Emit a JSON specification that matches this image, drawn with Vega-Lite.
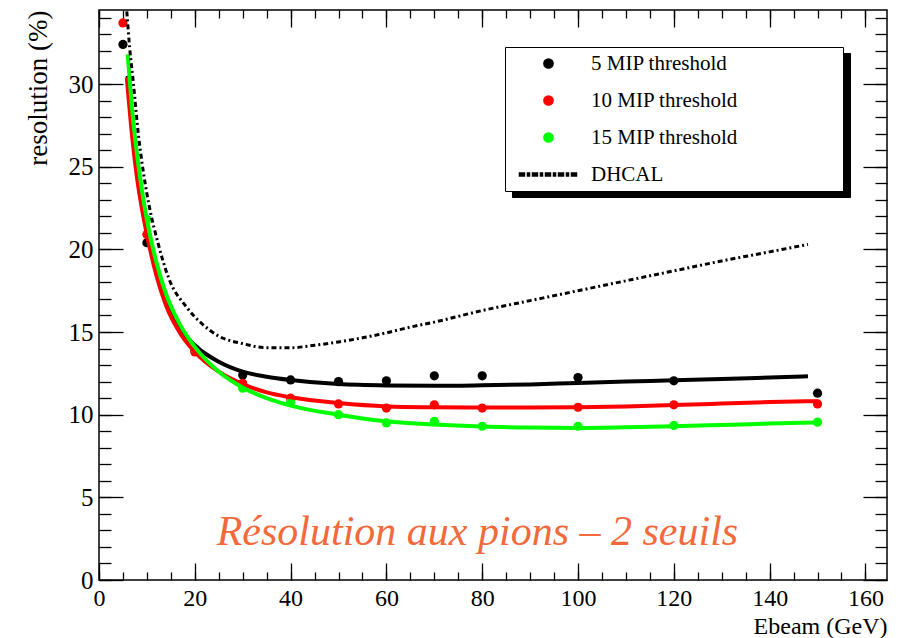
{
  "$schema": "https://vega.github.io/schema/vega-lite/v6.json",
  "width": 788,
  "height": 570,
  "autosize": "none",
  "padding": {"left": 99, "top": 10, "right": 15, "bottom": 58},
  "background": "white",
  "config": {
    "view": {"stroke": "black", "strokeWidth": 1.5},
    "font": "Liberation Serif",
    "axis": {
      "domain": false, "grid": false, "tickColor": "black", "tickWidth": 1.3,
      "labelColor": "black", "titleColor": "black",
      "labelFont": "Liberation Serif", "titleFont": "Liberation Serif",
      "labelFontSize": 24, "titleFontSize": 24, "titleFontWeight": "normal",
      "labelFlush": false, "labelOverlap": false
    }
  },
  "datasets": {
    "pts": [
      {"series": "5 MIP threshold", "E": 5, "res": 32.4},
      {"series": "5 MIP threshold", "E": 10, "res": 20.4},
      {"series": "5 MIP threshold", "E": 20, "res": 13.9},
      {"series": "5 MIP threshold", "E": 30, "res": 12.4},
      {"series": "5 MIP threshold", "E": 40, "res": 12.1},
      {"series": "5 MIP threshold", "E": 50, "res": 12.0},
      {"series": "5 MIP threshold", "E": 60, "res": 12.05},
      {"series": "5 MIP threshold", "E": 70, "res": 12.35},
      {"series": "5 MIP threshold", "E": 80, "res": 12.35},
      {"series": "5 MIP threshold", "E": 100, "res": 12.25},
      {"series": "5 MIP threshold", "E": 120, "res": 12.05},
      {"series": "5 MIP threshold", "E": 150, "res": 11.3},
      {"series": "10 MIP threshold", "E": 5, "res": 33.7},
      {"series": "10 MIP threshold", "E": 10, "res": 20.9},
      {"series": "10 MIP threshold", "E": 20, "res": 13.8},
      {"series": "10 MIP threshold", "E": 30, "res": 11.9},
      {"series": "10 MIP threshold", "E": 40, "res": 11.0},
      {"series": "10 MIP threshold", "E": 50, "res": 10.65},
      {"series": "10 MIP threshold", "E": 60, "res": 10.4},
      {"series": "10 MIP threshold", "E": 70, "res": 10.6},
      {"series": "10 MIP threshold", "E": 80, "res": 10.4},
      {"series": "10 MIP threshold", "E": 100, "res": 10.45},
      {"series": "10 MIP threshold", "E": 120, "res": 10.6},
      {"series": "10 MIP threshold", "E": 150, "res": 10.65},
      {"series": "15 MIP threshold", "E": 10, "res": 21.8},
      {"series": "15 MIP threshold", "E": 20, "res": 14.0},
      {"series": "15 MIP threshold", "E": 30, "res": 11.6},
      {"series": "15 MIP threshold", "E": 40, "res": 10.75},
      {"series": "15 MIP threshold", "E": 50, "res": 10.0},
      {"series": "15 MIP threshold", "E": 60, "res": 9.5},
      {"series": "15 MIP threshold", "E": 70, "res": 9.6},
      {"series": "15 MIP threshold", "E": 80, "res": 9.3},
      {"series": "15 MIP threshold", "E": 100, "res": 9.3},
      {"series": "15 MIP threshold", "E": 120, "res": 9.35},
      {"series": "15 MIP threshold", "E": 150, "res": 9.55}
    ],
    "fits": [
      {"series": "5 MIP threshold", "E": 6, "res": 30.5},
      {"series": "5 MIP threshold", "E": 7, "res": 27.3},
      {"series": "5 MIP threshold", "E": 8, "res": 25.0},
      {"series": "5 MIP threshold", "E": 9, "res": 23.0},
      {"series": "5 MIP threshold", "E": 10, "res": 21.3},
      {"series": "5 MIP threshold", "E": 12, "res": 18.7},
      {"series": "5 MIP threshold", "E": 14, "res": 16.9},
      {"series": "5 MIP threshold", "E": 17, "res": 15.2},
      {"series": "5 MIP threshold", "E": 20, "res": 14.2},
      {"series": "5 MIP threshold", "E": 25, "res": 13.2},
      {"series": "5 MIP threshold", "E": 30, "res": 12.6},
      {"series": "5 MIP threshold", "E": 35, "res": 12.3},
      {"series": "5 MIP threshold", "E": 40, "res": 12.1},
      {"series": "5 MIP threshold", "E": 50, "res": 11.85},
      {"series": "5 MIP threshold", "E": 60, "res": 11.77},
      {"series": "5 MIP threshold", "E": 70, "res": 11.75},
      {"series": "5 MIP threshold", "E": 80, "res": 11.78},
      {"series": "5 MIP threshold", "E": 90, "res": 11.83},
      {"series": "5 MIP threshold", "E": 100, "res": 11.92},
      {"series": "5 MIP threshold", "E": 110, "res": 12.0},
      {"series": "5 MIP threshold", "E": 120, "res": 12.08},
      {"series": "5 MIP threshold", "E": 130, "res": 12.16},
      {"series": "5 MIP threshold", "E": 140, "res": 12.25},
      {"series": "5 MIP threshold", "E": 148, "res": 12.32},
      {"series": "10 MIP threshold", "E": 5.8, "res": 30.4},
      {"series": "10 MIP threshold", "E": 7, "res": 26.6},
      {"series": "10 MIP threshold", "E": 8, "res": 24.2},
      {"series": "10 MIP threshold", "E": 9, "res": 22.4},
      {"series": "10 MIP threshold", "E": 10, "res": 20.9},
      {"series": "10 MIP threshold", "E": 12, "res": 18.4},
      {"series": "10 MIP threshold", "E": 14, "res": 16.6},
      {"series": "10 MIP threshold", "E": 17, "res": 14.9},
      {"series": "10 MIP threshold", "E": 20, "res": 13.8},
      {"series": "10 MIP threshold", "E": 25, "res": 12.6},
      {"series": "10 MIP threshold", "E": 30, "res": 11.85},
      {"series": "10 MIP threshold", "E": 35, "res": 11.35},
      {"series": "10 MIP threshold", "E": 40, "res": 11.05},
      {"series": "10 MIP threshold", "E": 50, "res": 10.7},
      {"series": "10 MIP threshold", "E": 60, "res": 10.5},
      {"series": "10 MIP threshold", "E": 70, "res": 10.45},
      {"series": "10 MIP threshold", "E": 80, "res": 10.43},
      {"series": "10 MIP threshold", "E": 90, "res": 10.43},
      {"series": "10 MIP threshold", "E": 100, "res": 10.45},
      {"series": "10 MIP threshold", "E": 110, "res": 10.5},
      {"series": "10 MIP threshold", "E": 120, "res": 10.58},
      {"series": "10 MIP threshold", "E": 130, "res": 10.67},
      {"series": "10 MIP threshold", "E": 140, "res": 10.76},
      {"series": "10 MIP threshold", "E": 150, "res": 10.82},
      {"series": "15 MIP threshold", "E": 6, "res": 31.8},
      {"series": "15 MIP threshold", "E": 7, "res": 28.2},
      {"series": "15 MIP threshold", "E": 8, "res": 25.6},
      {"series": "15 MIP threshold", "E": 9, "res": 23.5},
      {"series": "15 MIP threshold", "E": 10, "res": 21.8},
      {"series": "15 MIP threshold", "E": 12, "res": 19.2},
      {"series": "15 MIP threshold", "E": 14, "res": 17.3},
      {"series": "15 MIP threshold", "E": 17, "res": 15.4},
      {"series": "15 MIP threshold", "E": 20, "res": 14.1},
      {"series": "15 MIP threshold", "E": 25, "res": 12.6},
      {"series": "15 MIP threshold", "E": 30, "res": 11.65},
      {"series": "15 MIP threshold", "E": 35, "res": 11.0},
      {"series": "15 MIP threshold", "E": 40, "res": 10.55},
      {"series": "15 MIP threshold", "E": 50, "res": 10.0},
      {"series": "15 MIP threshold", "E": 60, "res": 9.6},
      {"series": "15 MIP threshold", "E": 70, "res": 9.4},
      {"series": "15 MIP threshold", "E": 80, "res": 9.28},
      {"series": "15 MIP threshold", "E": 90, "res": 9.22},
      {"series": "15 MIP threshold", "E": 100, "res": 9.2},
      {"series": "15 MIP threshold", "E": 110, "res": 9.24},
      {"series": "15 MIP threshold", "E": 120, "res": 9.3},
      {"series": "15 MIP threshold", "E": 130, "res": 9.38},
      {"series": "15 MIP threshold", "E": 140, "res": 9.46},
      {"series": "15 MIP threshold", "E": 150, "res": 9.53}
    ],
    "dhcal": [
      {"E": 5.8, "res": 34.4}, {"E": 6.4, "res": 32.2}, {"E": 7.2, "res": 30.0},
      {"E": 8.2, "res": 27.0}, {"E": 9.3, "res": 24.6}, {"E": 10.5, "res": 22.6},
      {"E": 12.3, "res": 20.4}, {"E": 14.5, "res": 18.3}, {"E": 18.3, "res": 16.5},
      {"E": 21.5, "res": 15.5}, {"E": 25, "res": 14.75}, {"E": 30, "res": 14.3},
      {"E": 35, "res": 14.05}, {"E": 40, "res": 14.05}, {"E": 45, "res": 14.2},
      {"E": 50, "res": 14.4}, {"E": 55, "res": 14.65}, {"E": 60, "res": 14.95},
      {"E": 65, "res": 15.3}, {"E": 70, "res": 15.6}, {"E": 80, "res": 16.3},
      {"E": 90, "res": 16.9}, {"E": 100, "res": 17.5}, {"E": 110, "res": 18.1},
      {"E": 120, "res": 18.7}, {"E": 130, "res": 19.3}, {"E": 140, "res": 19.85},
      {"E": 148, "res": 20.3}
    ],
    "note": [{"label": "Résolution aux pions – 2 seuils", "E": 79, "res": 2.1}]
  },
  "layer": [
    {
      "data": {"name": "pts"},
      "mark": {"type": "point", "filled": true, "size": 85, "opacity": 1},
      "encoding": {
        "x": {"field": "E", "type": "quantitative",
          "scale": {"domain": [0, 164.5], "nice": false, "zero": false},
          "axis": {"orient": "bottom", "values": [0, 20, 40, 60, 80, 100, 120, 140, 160], "tickSize": -17, "labelPadding": 23, "title": "Ebeam (GeV)", "titleAnchor": "end", "titlePadding": 4}},
        "y": {"field": "res", "type": "quantitative",
          "scale": {"domain": [0, 34.48], "nice": false, "zero": false},
          "axis": {"orient": "left", "values": [0, 5, 10, 15, 20, 25, 30], "tickSize": -24, "labelPadding": 30, "labelFontSize": 25, "title": "resolution (%)", "titleFontSize": 27, "titleAnchor": "end", "titlePadding": 16}},
        "color": {"field": "series", "type": "nominal",
          "scale": {"domain": ["5 MIP threshold", "10 MIP threshold", "15 MIP threshold", "DHCAL"], "range": ["#000000", "#ff0000", "#00ff00", "#000000"]},
          "legend": {
            "title": "MMMMM", "titleOrient": "right", "titleColor": "white", "titleFont": "Liberation Serif", "titleFontSize": 20, "titlePadding": 4,
            "orient": "none", "legendX": 406, "legendY": 37, "zindex": 2,
            "strokeColor": "black", "fillColor": "white", "padding": 6,
            "labelFont": "Liberation Serif", "labelFontSize": 21, "labelColor": "black", "labelLimit": 500,
            "symbolSize": 85, "symbolOffset": 27, "labelOffset": 32, "rowPadding": 15
          }},
        "shape": {"field": "series", "type": "nominal",
          "scale": {"domain": ["5 MIP threshold", "10 MIP threshold", "15 MIP threshold", "DHCAL"], "range": ["circle", "circle", "circle", "M-6.3,-0.33h1.08v0.66h-1.08z M-4.56,-0.33h0.44v0.66h-0.44z M-3.47,-0.33h1.08v0.66h-1.08z M-1.74,-0.33h0.44v0.66h-0.44z M-0.65,-0.33h1.08v0.66h-1.08z M1.08,-0.33h0.44v0.66h-0.44z M2.17,-0.33h1.08v0.66h-1.08z M3.9,-0.33h0.44v0.66h-0.44z M4.99,-0.33h1.08v0.66h-1.08z"]}}
      }
    },
    {
      "data": {"name": "fits"},
      "mark": {"type": "line", "strokeWidth": 4, "interpolate": "monotone"},
      "encoding": {
        "x": {"field": "E", "type": "quantitative",
          "scale": {"domain": [0, 164.5], "nice": false, "zero": false},
          "axis": {"orient": "bottom", "values": [0, 5, 10, 15, 20, 25, 30, 35, 40, 45, 50, 55, 60, 65, 70, 75, 80, 85, 90, 95, 100, 105, 110, 115, 120, 125, 130, 135, 140, 145, 150, 155, 160], "tickSize": -8, "labels": false, "title": null}},
        "y": {"field": "res", "type": "quantitative",
          "scale": {"domain": [0, 34.48], "nice": false, "zero": false},
          "axis": {"orient": "left", "values": [0, 1, 2, 3, 4, 5, 6, 7, 8, 9, 10, 11, 12, 13, 14, 15, 16, 17, 18, 19, 20, 21, 22, 23, 24, 25, 26, 27, 28, 29, 30, 31, 32, 33, 34], "tickSize": -12, "labels": false, "title": null}},
        "color": {"field": "series", "type": "nominal", "legend": null},
        "opacity": {"field": "series", "type": "ordinal",
          "scale": {"domain": ["DHCAL", "15 MIP threshold", "10 MIP threshold", "5 MIP threshold"], "range": [1, 1, 1, 1]},
          "legend": {
            "title": null,
            "orient": "none", "legendX": 413, "legendY": 43, "zindex": 1,
            "strokeColor": "black", "fillColor": "black", "padding": 6,
            "labelFont": "Liberation Serif", "labelFontSize": 21, "labelColor": "black", "labelLimit": 500,
            "labelExpr": "''",
            "symbolType": "circle", "symbolSize": 85, "symbolOffset": 305, "labelOffset": 0, "rowPadding": 15,
            "symbolFillColor": "black", "symbolStrokeColor": "black", "symbolStrokeWidth": 0
          }},
        "order": {"field": "E", "type": "quantitative"}
      }
    },
    {
      "data": {"name": "dhcal"},
      "mark": {"type": "line", "strokeWidth": 3, "color": "black", "strokeDash": [5, 3, 2, 3], "interpolate": "monotone", "clip": true},
      "encoding": {
        "x": {"field": "E", "type": "quantitative",
          "scale": {"domain": [0, 164.5], "nice": false, "zero": false},
          "axis": {"orient": "top", "values": [0, 20, 40, 60, 80, 100, 120, 140, 160], "tickSize": -17, "labels": false, "title": null}},
        "y": {"field": "res", "type": "quantitative",
          "scale": {"domain": [0, 34.48], "nice": false, "zero": false},
          "axis": {"orient": "right", "values": [0, 5, 10, 15, 20, 25, 30], "tickSize": -24, "labels": false, "title": null}},
        "order": {"field": "E", "type": "quantitative"}
      }
    },
    {
      "data": {"name": "note"},
      "mark": {"type": "text", "font": "Liberation Serif", "fontStyle": "italic", "fontSize": 42, "color": "#f26a3c", "align": "center", "baseline": "alphabetic"},
      "encoding": {
        "x": {"field": "E", "type": "quantitative",
          "scale": {"domain": [0, 164.5], "nice": false, "zero": false},
          "axis": {"orient": "top", "values": [0, 5, 10, 15, 20, 25, 30, 35, 40, 45, 50, 55, 60, 65, 70, 75, 80, 85, 90, 95, 100, 105, 110, 115, 120, 125, 130, 135, 140, 145, 150, 155, 160], "tickSize": -8, "labels": false, "title": null}},
        "y": {"field": "res", "type": "quantitative",
          "scale": {"domain": [0, 34.48], "nice": false, "zero": false},
          "axis": {"orient": "right", "values": [0, 1, 2, 3, 4, 5, 6, 7, 8, 9, 10, 11, 12, 13, 14, 15, 16, 17, 18, 19, 20, 21, 22, 23, 24, 25, 26, 27, 28, 29, 30, 31, 32, 33, 34], "tickSize": -12, "labels": false, "title": null}},
        "text": {"field": "label", "type": "nominal"}
      }
    }
  ],
  "resolve": {"axis": {"x": "independent", "y": "independent"}}
}
